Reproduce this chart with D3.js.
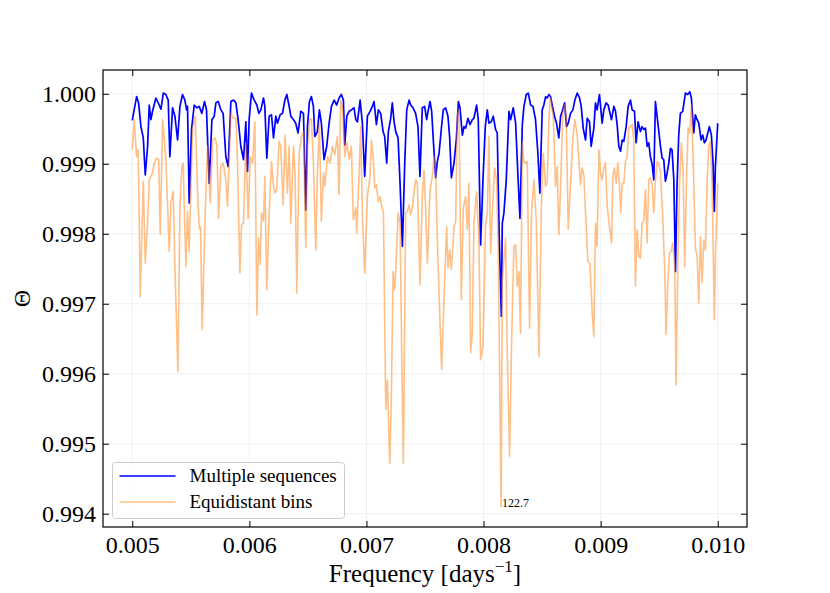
<!DOCTYPE html>
<html>
<head>
<meta charset="utf-8">
<script src="https://cdn.jsdelivr.net/npm/d3@7"></script>
<style>
  html, body { margin: 0; padding: 0; background: #fff; }
  svg text { font-family: "Liberation Serif", "Times New Roman", Times, serif !important; fill: #000; }
</style>
</head>
<body>
<div id="chart"></div>
<script>
// Multiple sequences (blue)
const freqMulti = [
  0.005000,0.005037,0.005054,0.005074,0.005094,0.005111,0.005131,0.005145,0.005159,0.005173,
  0.005202,0.005230,0.005245,0.005265,0.005287,0.005307,0.005321,0.005344,0.005364,0.005387,
  0.005407,0.005429,0.005449,0.005464,0.005472,0.005486,0.005506,0.005529,0.005552,0.005572,
  0.005594,0.005617,0.005634,0.005657,0.005680,0.005700,0.005714,0.005734,0.005757,0.005776,
  0.005799,0.005819,
  0.005842,0.005865,0.005885,0.005904,0.005927,0.005950,0.005970,0.005984,0.005998,0.006018,
  0.006041,0.006064,0.006081,0.006098,0.006121,0.006132,0.006149,0.006169,0.006189,0.006206,
  0.006226,0.006240,0.006263,0.006283,0.006303,0.006320,0.006340,0.006354,0.006377,0.006396,
  0.006416,0.006439,0.006462,0.006482,0.006496,0.006513,0.006530,0.006547,0.006559,0.006581,
  0.006598,0.006615,0.006638,0.006661,0.006681,0.006701,0.006724,0.006746,0.006766,0.006786,
  0.006803,0.006815,0.006832,0.006852,0.006871,0.006894,
  0.006909,0.006923,0.006946,0.006965,0.006985,0.007008,0.007031,0.007051,0.007065,0.007085,
  0.007102,0.007122,0.007142,0.007156,0.007173,0.007187,0.007207,0.007221,0.007236,0.007250,
  0.007270,0.007287,0.007307,0.007327,0.007344,0.007364,0.007378,0.007398,0.007420,0.007440,
  0.007457,0.007477,0.007497,0.007514,0.007526,0.007543,0.007557,0.007571,0.007591,0.007605,
  0.007620,0.007639,0.007656,0.007676,0.007696,0.007711,0.007725,0.007748,0.007767,0.007785,
  0.007799,0.007819,0.007833,0.007847,0.007867,0.007884,0.007904,0.007918,
  0.007941,0.007955,0.007975,0.007995,0.008015,0.008032,0.008046,0.008066,0.008083,0.008103,
  0.008117,0.008134,0.008152,0.008160,0.008174,0.008194,0.008217,0.008231,0.008254,0.008274,
  0.008294,0.008311,0.008331,0.008345,0.008365,0.008382,0.008402,0.008422,0.008444,0.008464,
  0.008481,0.008501,0.008515,0.008530,0.008544,0.008558,0.008572,0.008586,0.008606,0.008623,
  0.008643,0.008658,0.008672,0.008692,0.008709,0.008723,0.008743,0.008763,0.008780,0.008800,
  0.008820,0.008834,0.008851,0.008871,0.008885,0.008905,0.008919,0.008942,
  0.008956,0.008970,0.008990,0.009013,0.009027,0.009047,0.009064,0.009076,0.009093,0.009113,
  0.009127,0.009141,0.009155,0.009170,0.009184,0.009198,0.009218,0.009235,0.009255,0.009269,
  0.009289,0.009303,0.009320,0.009340,0.009354,0.009369,0.009383,0.009397,0.009411,0.009425,
  0.009440,0.009454,0.009468,0.009482,0.009497,0.009511,0.009525,0.009539,0.009553,0.009568,
  0.009582,0.009596,0.009610,0.009625,0.009639,0.009653,0.009667,0.009681,0.009701,0.009724,
  0.009744,0.009761,0.009775,0.009795,0.009809,0.009824,0.009838,0.009858,0.009872,0.009886,
  0.009900,0.009915,0.009929,0.009946,0.009960,0.009971,0.009980,0.010000
];
const thetaMulti = [
  0.99962,0.99996,0.99987,0.99953,0.99937,0.99884,0.99925,0.99984,0.99963,0.99975,
  0.99994,0.99984,0.99978,1.00001,0.99999,0.99991,0.99910,0.99980,0.99968,0.99934,
  0.99982,0.99999,0.99991,0.99977,0.99982,0.99844,0.99949,0.99984,0.99980,0.99982,
  0.99972,0.99989,0.99977,0.99872,0.99963,0.99968,0.99987,0.99989,0.99977,0.99972,
  0.99910,0.99896,
  0.99989,0.99991,0.99987,0.99963,0.99925,0.99906,0.99960,0.99889,0.99963,1.00001,
  0.99991,0.99984,0.99972,0.99977,0.99994,0.99982,0.99908,0.99968,0.99970,0.99937,
  0.99968,0.99958,0.99970,0.99972,0.99991,0.99999,0.99982,0.99968,0.99963,0.99958,
  0.99944,0.99975,0.99972,0.99834,0.99953,0.99989,0.99996,0.99982,0.99939,0.99946,
  0.99977,0.99958,0.99906,0.99925,0.99958,0.99982,0.99991,0.99984,0.99994,0.99999,
  0.99991,0.99927,0.99968,0.99975,0.99977,0.99980,
  0.99963,0.99960,0.99991,0.99958,0.99882,0.99968,0.99975,0.99982,0.99989,0.99956,
  0.99977,0.99972,0.99946,0.99939,0.99901,0.99946,0.99965,0.99987,0.99960,0.99946,
  0.99937,0.99872,0.99782,0.99901,0.99977,0.99991,0.99984,0.99980,0.99972,0.99953,
  0.99882,0.99980,0.99982,0.99963,0.99975,0.99989,0.99975,0.99934,0.99880,0.99903,
  0.99915,0.99949,0.99977,0.99980,0.99968,0.99937,0.99880,0.99901,0.99934,0.99989,
  0.99980,0.99941,0.99953,0.99951,0.99965,0.99956,0.99963,0.99965,
  0.99984,0.99963,0.99784,0.99877,0.99953,0.99977,0.99958,0.99960,0.99968,0.99949,
  0.99944,0.99796,0.99682,0.99815,0.99830,0.99877,0.99975,0.99963,0.99980,0.99958,
  0.99882,0.99822,0.99956,0.99982,0.99999,1.00001,0.99984,0.99982,0.99963,0.99915,
  0.99858,0.99977,0.99984,0.99996,0.99994,0.99999,0.99996,0.99984,0.99968,0.99958,
  0.99937,0.99968,0.99975,0.99987,0.99953,0.99958,0.99972,0.99977,0.99991,1.00001,
  0.99994,0.99982,0.99951,0.99934,0.99965,0.99960,0.99925,0.99951,
  0.99987,0.99977,0.99999,0.99958,0.99977,0.99987,0.99984,0.99975,0.99963,0.99982,
  0.99975,0.99956,0.99925,0.99918,0.99934,0.99932,0.99953,0.99982,0.99991,0.99977,
  0.99975,0.99930,0.99960,0.99946,0.99953,0.99949,0.99951,0.99925,0.99930,0.99910,
  0.99899,0.99877,0.99989,0.99968,0.99946,0.99925,0.99908,0.99906,0.99875,0.99887,
  0.99901,0.99922,0.99920,0.99877,0.99746,0.99872,0.99941,0.99972,0.99975,1.00001,
  0.99999,1.00003,0.99994,0.99944,0.99970,0.99963,0.99958,0.99934,0.99941,0.99930,
  0.99934,0.99944,0.99953,0.99941,0.99901,0.99832,0.99896,0.99958
];

// Equidistant bins (orange)
const freqEqui = [
  0.005000,0.005017,0.005037,0.005051,0.005068,0.005094,0.005111,0.005131,0.005145,0.005159,
  0.005173,0.005188,0.005208,0.005225,0.005239,0.005259,0.005287,0.005316,0.005330,0.005350,
  0.005367,0.005390,0.005407,0.005424,0.005435,0.005444,0.005458,0.005472,0.005486,0.005515,
  0.005538,0.005557,0.005572,0.005583,0.005597,0.005623,0.005643,0.005666,0.005686,0.005708,
  0.005723,0.005737,0.005757,0.005776,0.005799,0.005813,
  0.005842,0.005865,0.005885,0.005899,0.005919,0.005933,0.005950,0.005970,0.005990,0.006007,
  0.006027,0.006047,0.006064,0.006078,0.006092,0.006104,0.006121,0.006132,0.006149,0.006169,
  0.006189,0.006206,0.006220,0.006234,0.006254,0.006268,0.006288,0.006305,0.006325,0.006340,
  0.006354,0.006377,0.006391,0.006405,0.006425,0.006445,0.006462,0.006482,0.006496,0.006516,
  0.006530,0.006547,0.006567,0.006581,0.006598,0.006615,0.006633,0.006644,0.006667,0.006689,
  0.006709,0.006729,0.006752,0.006766,0.006780,0.006797,0.006815,0.006832,0.006852,0.006871,
  0.006888,
  0.006909,0.006917,0.006937,0.006951,0.006965,0.006985,0.007008,0.007031,0.007042,0.007059,
  0.007071,0.007085,0.007102,0.007116,0.007128,0.007145,0.007165,0.007179,0.007199,0.007213,
  0.007227,0.007241,0.007256,0.007270,0.007287,0.007301,0.007315,0.007335,0.007349,0.007364,
  0.007378,0.007392,0.007406,0.007420,0.007435,0.007457,0.007477,0.007492,0.007506,0.007520,
  0.007543,0.007563,0.007577,0.007591,0.007605,0.007620,0.007642,0.007662,0.007685,0.007696,
  0.007711,0.007725,0.007748,0.007762,0.007776,0.007790,0.007810,0.007827,0.007847,0.007861,
  0.007875,0.007890,0.007904,0.007918,
  0.007941,0.007961,0.007975,0.007995,0.008018,0.008032,0.008046,0.008060,0.008075,0.008094,
  0.008112,0.008126,0.008150,0.008160,0.008168,0.008188,0.008203,0.008222,0.008239,0.008259,
  0.008274,0.008288,0.008302,0.008316,0.008331,0.008345,0.008359,0.008373,0.008393,0.008410,
  0.008430,0.008450,0.008473,0.008493,0.008510,0.008530,0.008544,0.008558,0.008572,0.008595,
  0.008615,0.008629,0.008643,0.008658,0.008677,0.008692,0.008706,0.008723,0.008743,0.008763,
  0.008780,0.008800,0.008814,0.008828,0.008842,0.008857,0.008871,0.008891,0.008908,0.008928,
  0.008942,
  0.008956,0.008970,0.008985,0.008999,0.009013,0.009027,0.009041,0.009056,0.009076,0.009093,
  0.009104,0.009118,0.009133,0.009147,0.009161,0.009172,0.009184,0.009198,0.009212,0.009226,
  0.009241,0.009255,0.009269,0.009283,0.009297,0.009312,0.009326,0.009340,0.009354,0.009369,
  0.009383,0.009397,0.009411,0.009425,0.009440,0.009454,0.009468,0.009482,0.009497,0.009511,
  0.009531,0.009548,0.009559,0.009573,0.009588,0.009602,0.009616,0.009633,0.009644,0.009659,
  0.009673,0.009690,0.009704,0.009718,0.009733,0.009747,0.009761,0.009775,0.009795,0.009809,
  0.009824,0.009838,0.009852,0.009866,0.009881,0.009895,0.009909,0.009923,0.009937,0.009952,
  0.009971,0.009980,0.010000
];
const thetaEqui = [
  0.99920,0.99963,0.99910,0.99920,0.99710,0.99875,0.99758,0.99815,0.99877,0.99882,
  0.99887,0.99901,0.99908,0.99906,0.99799,0.99963,0.99906,0.99775,0.99844,0.99860,
  0.99734,0.99603,0.99839,0.99896,0.99901,0.99839,0.99753,0.99832,0.99775,0.99949,
  0.99968,0.99863,0.99808,0.99810,0.99663,0.99830,0.99925,0.99844,0.99934,0.99937,
  0.99925,0.99822,0.99896,0.99901,0.99877,0.99839,
  0.99972,0.99965,0.99965,0.99901,0.99744,0.99813,0.99815,0.99930,0.99822,0.99910,
  0.99901,0.99960,0.99684,0.99794,0.99756,0.99830,0.99818,0.99882,0.99720,0.99830,
  0.99903,0.99868,0.99858,0.99865,0.99932,0.99925,0.99841,0.99941,0.99858,0.99925,
  0.99815,0.99925,0.99882,0.99715,0.99915,0.99939,0.99946,0.99780,0.99920,0.99963,
  0.99965,0.99901,0.99777,0.99887,0.99958,0.99818,0.99887,0.99868,0.99910,0.99901,
  0.99925,0.99913,0.99939,0.99856,0.99991,0.99977,0.99910,0.99930,0.99906,0.99925,
  0.99820,
  0.99837,0.99801,0.99887,0.99953,0.99830,0.99744,0.99853,0.99882,0.99934,0.99906,
  0.99865,0.99870,0.99846,0.99853,0.99841,0.99830,0.99549,0.99591,0.99472,0.99568,
  0.99746,0.99720,0.99768,0.99830,0.99815,0.99630,0.99472,0.99830,0.99832,0.99841,
  0.99827,0.99837,0.99858,0.99877,0.99872,0.99727,0.99853,0.99891,0.99834,0.99758,
  0.99863,0.99882,0.99910,0.99891,0.99794,0.99715,0.99606,0.99706,0.99810,0.99751,
  0.99777,0.99749,0.99810,0.99818,0.99968,0.99977,0.99706,0.99837,0.99853,0.99806,
  0.99872,0.99630,0.99658,0.99815,
  0.99860,0.99787,0.99620,0.99639,0.99815,0.99830,0.99939,0.99772,0.99830,0.99894,
  0.99877,0.99772,0.99410,0.99734,0.99749,0.99794,0.99625,0.99482,0.99639,0.99782,
  0.99784,0.99725,0.99746,0.99658,0.99930,0.99903,0.99901,0.99903,0.99665,0.99832,
  0.99877,0.99820,0.99625,0.99834,0.99915,0.99868,0.99875,0.99963,0.99994,0.99968,
  0.99868,0.99896,0.99799,0.99868,0.99972,0.99984,0.99968,0.99806,0.99872,0.99937,
  0.99963,0.99941,0.99906,0.99870,0.99894,0.99884,0.99830,0.99760,0.99758,0.99687,
  0.99653,
  0.99815,0.99782,0.99920,0.99887,0.99877,0.99894,0.99901,0.99839,0.99810,0.99787,
  0.99882,0.99894,0.99872,0.99901,0.99868,0.99830,0.99872,0.99872,0.99903,0.99910,
  0.99953,0.99953,0.99956,0.99934,0.99725,0.99806,0.99768,0.99765,0.99815,0.99820,
  0.99863,0.99787,0.99877,0.99880,0.99870,0.99830,0.99875,0.99903,0.99901,0.99887,
  0.99822,0.99744,0.99656,0.99725,0.99772,0.99775,0.99787,0.99753,0.99584,0.99753,
  0.99868,0.99930,0.99891,0.99753,0.99872,0.99951,0.99944,0.99984,0.99877,0.99780,
  0.99768,0.99701,0.99796,0.99730,0.99791,0.99777,0.99872,0.99925,0.99932,0.99875,
  0.99677,0.99768,0.99872
];

const xTicks = [0.005, 0.006, 0.007, 0.008, 0.009, 0.010];
const yTicks = [0.994, 0.995, 0.996, 0.997, 0.998, 0.999, 1.000];
const seriesNames = ["Multiple sequences", "Equidistant bins"];

const width = 830;
const height = 593;
const margin = { top: 70, right: 83, bottom: 66, left: 103 };
const serif = '"Liberation Serif", "Times New Roman", Times, serif';

const svg = d3.select("#chart").append("svg").attr("width", width).attr("height", height)
  .attr("font-family", serif);

const x = d3.scaleLinear().domain([0.00475, 0.01025]).range([margin.left, width - margin.right]);
const y = d3.scaleLinear().domain([0.99381, 1.00034]).range([height - margin.bottom, margin.top]);

const plotW = width - margin.left - margin.right;
const plotH = height - margin.top - margin.bottom;

// Grid
const grid = svg.append("g").attr("stroke", "#ececec").attr("stroke-width", 0.8);
grid.selectAll(".gx").data(xTicks).enter().append("line")
  .attr("x1", (d) => x(d)).attr("x2", (d) => x(d))
  .attr("y1", margin.top).attr("y2", height - margin.bottom);
grid.selectAll(".gy").data(yTicks).enter().append("line")
  .attr("x1", margin.left).attr("x2", width - margin.right)
  .attr("y1", (d) => y(d)).attr("y2", (d) => y(d));

// Clip for lines
svg.append("clipPath").attr("id", "plot-clip").append("rect")
  .attr("x", margin.left).attr("y", margin.top).attr("width", plotW).attr("height", plotH);

const line = d3.line().x((d) => x(d[0])).y((d) => y(d[1]));
const multiData = freqMulti.map((f, i) => [f, thetaMulti[i]]);
const equiData = freqEqui.map((f, i) => [f, thetaEqui[i]]);

const lines = svg.append("g").attr("clip-path", "url(#plot-clip)");
lines.append("path").datum(multiData)
  .attr("fill", "none").attr("stroke", "#0000ff").attr("stroke-width", 1.7)
  .attr("stroke-linejoin", "round").attr("d", line);
lines.append("path").datum(equiData)
  .attr("fill", "none").attr("stroke", "#ff7f0e").attr("stroke-opacity", 0.5).attr("stroke-width", 1.6)
  .attr("stroke-linejoin", "round").attr("d", line);

// Annotation at the minimum of the equidistant bins
const minIdx = d3.minIndex(thetaEqui);
svg.append("text")
  .attr("x", x(freqEqui[minIdx]) + 1)
  .attr("y", y(thetaEqui[minIdx]))
  .attr("font-size", "12px")
  .text((1 / freqEqui[minIdx]).toFixed(1));

// Axes (ticks pointing inward on all sides)
const fmt = d3.format(".3f");
const tickLen = 6;

const xAxis = svg.append("g")
  .attr("transform", `translate(0,${height - margin.bottom})`)
  .call(d3.axisBottom(x).tickValues(xTicks).tickFormat(fmt).tickSize(-tickLen).tickPadding(9));
const yAxis = svg.append("g")
  .attr("transform", `translate(${margin.left},0)`)
  .call(d3.axisLeft(y).tickValues(yTicks).tickFormat(fmt).tickSize(-tickLen).tickPadding(7));
const xTop = svg.append("g")
  .attr("transform", `translate(0,${margin.top})`)
  .call(d3.axisTop(x).tickValues(xTicks).tickFormat("").tickSize(-tickLen));
const yRight = svg.append("g")
  .attr("transform", `translate(${width - margin.right},0)`)
  .call(d3.axisRight(y).tickValues(yTicks).tickFormat("").tickSize(-tickLen));

[xAxis, yAxis, xTop, yRight].forEach((g) => {
  g.attr("font-family", serif).attr("font-size", 24);
  g.select(".domain").remove();
  g.selectAll(".tick line").attr("stroke", "#000").attr("stroke-width", 1);
  g.selectAll(".tick text").attr("fill", "#000");
});

// Frame
svg.append("rect")
  .attr("x", margin.left).attr("y", margin.top)
  .attr("width", plotW).attr("height", plotH)
  .attr("fill", "none").attr("stroke", "#000").attr("stroke-width", 1.2);

// Axis labels
const xLabel = svg.append("text")
  .attr("x", margin.left + plotW / 2)
  .attr("y", 582)
  .attr("text-anchor", "middle")
  .attr("font-size", "25px");
xLabel.append("tspan").text("Frequency [days");
xLabel.append("tspan").attr("dy", -10).attr("font-size", "17px").text("\u22121");
xLabel.append("tspan").attr("dy", 10).text("]");

svg.append("text")
  .attr("transform", `translate(30,${margin.top + plotH / 2}) rotate(-90)`)
  .attr("text-anchor", "middle")
  .attr("font-size", "24px")
  .text("\u0398");

// Legend
const legend = svg.append("g").attr("transform", "translate(112.5,462.5)");
legend.append("rect")
  .attr("width", 232).attr("height", 56).attr("rx", 3)
  .attr("fill", "#fff").attr("fill-opacity", 0.8)
  .attr("stroke", "#cccccc").attr("stroke-width", 1);

const legendStyles = [
  { color: "#0000ff", opacity: 1, width: 1.7 },
  { color: "#ff7f0e", opacity: 0.5, width: 1.6 }
];
seriesNames.forEach((name, i) => {
  const yy = 13.5 + i * 26;
  legend.append("line")
    .attr("x1", 7).attr("x2", 63).attr("y1", yy).attr("y2", yy)
    .attr("stroke", legendStyles[i].color)
    .attr("stroke-opacity", legendStyles[i].opacity)
    .attr("stroke-width", legendStyles[i].width);
  legend.append("text")
    .attr("x", 77).attr("y", yy + 6)
    .attr("font-size", "19px")
    .text(name);
});
</script>
</body>
</html>
